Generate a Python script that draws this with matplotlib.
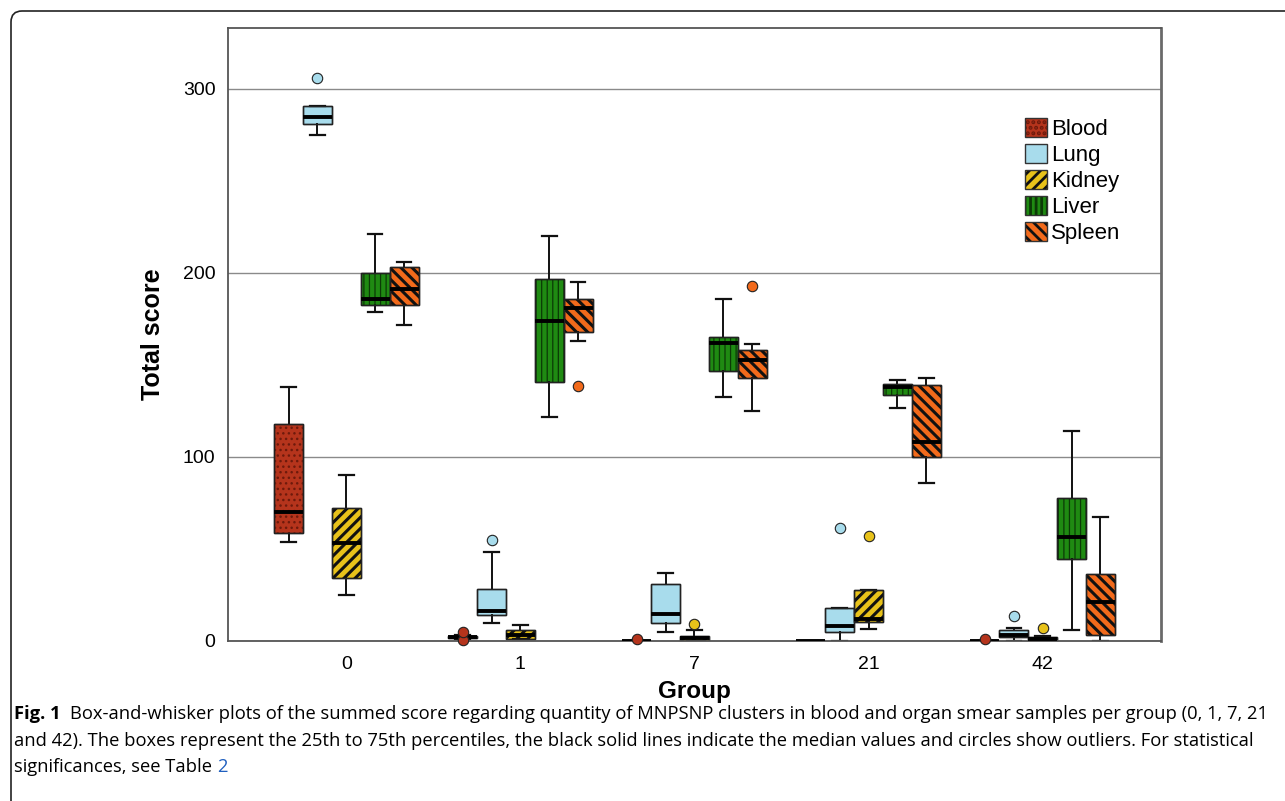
import numpy as np
import matplotlib
matplotlib.use("Agg")
import matplotlib.pyplot as plt
import matplotlib.patches as mpatches
from matplotlib.transforms import IdentityTransform
from matplotlib.legend_handler import HandlerTuple

plt.rcParams['font.family'] = ['Liberation Sans', 'DejaVu Sans']
plt.rcParams['hatch.linewidth'] = 2.0

# groups and organs
groups = ['0', '1', '7', '21', '42']
organs = ['Blood', 'Lung', 'Kidney', 'Liver', 'Spleen']

# five number summaries per group: (whislo, q1, med, q3, whishi)
blood_stats = [(54, 58.7, 70, 118, 138), (1, 1.5, 2, 2.5, 3), (0, 0, 0, 0, 0),
               (0, 0, 0, 0, 0), (0, 0, 0, 0, 0)]
blood_fliers = [[], [0.3, 5], [1.2], [], [0.9]]

lung_stats = [(275, 281, 284.6, 290.6, 290.6), (9.6, 14, 16.3, 28.4, 48.5),
              (5.1, 10, 14.6, 30.9, 36.7), (0, 4.7, 8.1, 17.7, 17.7), (0, 2, 3.5, 6, 7.2)]
lung_fliers = [[306], [54.8], [], [61.5], [13.8]]

kidney_stats = [(25, 34, 53, 72, 90), (1, 1, 3.2, 5.8, 8.7), (0, 0, 1.4, 2.7, 6),
                (6.5, 10.5, 11.9, 27.7, 27.7), (0, 0, 1.2, 2.3, 2.5)]
kidney_fliers = [[], [], [9.2], [57], [6.9]]

liver_stats = [(178.8, 182.4, 185.7, 200, 221), (121.4, 140.7, 174, 196.8, 219.9),
               (132.4, 146.7, 161.9, 165, 185.6), (126.4, 133.5, 137.8, 139.5, 142),
               (6, 44.5, 56.6, 77.8, 114.1)]
liver_fliers = [[], [], [], [], []]

spleen_stats = [(171.7, 182.4, 191.4, 203, 205.8), (162.8, 167.7, 181, 185.7, 194.8),
                (124.8, 142.9, 152.5, 157.9, 161.5), (85.9, 100, 108.3, 139, 142.7),
                (0, 3.3, 21.3, 36.2, 67.5)]
spleen_fliers = [[], [138.5], [192.8], [], []]

all_stats = [blood_stats, lung_stats, kidney_stats, liver_stats, spleen_stats]
all_fliers = [blood_fliers, lung_fliers, kidney_fliers, liver_fliers, spleen_fliers]

# look of each organ
face_cols = ['#B5341C', '#A8DCEC', '#E8C21A', '#1F8A12', '#F26A1B']
hatch_cols = ['#6e1a0c', None, '#111111', '#0b3a06', '#111111']
hatches = ['...', None, '///', '|||', '\\\\\\']
hatch_lw = [1.0, 1.0, 2.2, 0.9, 2.2]

fig = plt.figure(figsize=(12.85, 8.01), dpi=100)
ax = fig.add_axes([0.1774, 0.1998, 0.7261, 0.7653])

w = 0.166
offsets = [-2 * w, -w, 0, w, 2 * w]
x = np.arange(len(groups))


def add_hatch(patch_path, k, z):
    if hatches[k] is None:
        return
    hp = mpatches.PathPatch(patch_path, facecolor='none', edgecolor=hatch_cols[k],
                            lw=0, hatch=hatches[k], zorder=z)
    if hasattr(hp, 'set_hatch_linewidth'):
        hp.set_hatch_linewidth(hatch_lw[k])
    ax.add_patch(hp)


for k in range(len(organs)):
    stats = []
    for g in range(len(groups)):
        lo, q1, med, q3, hi = all_stats[k][g]
        stats.append(dict(whislo=lo, q1=q1, med=med, q3=q3, whishi=hi,
                          fliers=all_fliers[k][g], label=groups[g]))
    res = ax.bxp(stats, positions=x + offsets[k], widths=w, capwidths=w * 0.5,
                 patch_artist=True, manage_ticks=False,
                 boxprops=dict(facecolor=face_cols[k], edgecolor='#222222', lw=1.0),
                 medianprops=dict(color='black', lw=2.8, zorder=2.6),
                 whiskerprops=dict(color='#111111', lw=1.4),
                 capprops=dict(color='#111111', lw=1.6),
                 flierprops=dict(marker='o', markersize=7.5, markerfacecolor=face_cols[k],
                                 markeredgecolor='#222222', markeredgewidth=0.8))
    for b in res['boxes']:
        add_hatch(b.get_path(), k, 2.05)
        ax.add_patch(mpatches.PathPatch(b.get_path(), fill=False, edgecolor='#222222',
                                        lw=1.0, zorder=2.1))
    for f in res['fliers']:
        f.set_clip_on(False)
        f.set_zorder(3)

ax.set_xlim(-0.68, 4.68)
ax.set_ylim(0, 333)
ax.set_xticks(x)
ax.set_xticklabels(groups)
ax.set_yticks([0, 100, 200, 300])
ax.tick_params(axis='both', length=0, labelsize=14, colors='black')
ax.tick_params(axis='x', pad=11)
ax.tick_params(axis='y', pad=9)
ax.set_axisbelow(True)
ax.yaxis.grid(True, color='#8a8a8a', lw=1.0)
for s in ax.spines.values():
    s.set_color('#555555')
    s.set_linewidth(1.3)
ax.spines['right'].set_linewidth(2.0)
ax.spines['right'].set_color('#6a6a6a')

ax.set_ylabel('Total score', fontsize=18, fontweight='bold')
ax.set_xlabel('Group', fontsize=17.5, fontweight='bold')
ax.yaxis.set_label_coords(-0.068, 0.5)
ax.xaxis.set_label_coords(0.5, -0.064)

# legend
handles = []
for k in range(len(organs)):
    parts = [mpatches.Patch(facecolor=face_cols[k], edgecolor='none')]
    if hatches[k] is not None:
        hp = mpatches.Patch(facecolor='none', edgecolor=hatch_cols[k], lw=0, hatch=hatches[k])
        if hasattr(hp, 'set_hatch_linewidth'):
            hp.set_hatch_linewidth(hatch_lw[k])
        parts.append(hp)
    parts.append(mpatches.Patch(fill=False, edgecolor='#333333', lw=1.0))
    handles.append(tuple(parts))
ax.legend(handles, organs, handler_map={tuple: HandlerTuple(ndivide=1, pad=0)},
          loc='upper left', bbox_to_anchor=(0.854, 0.853), borderaxespad=0, borderpad=0,
          frameon=False, fontsize=16, handlelength=1.0, handleheight=0.95,
          handletextpad=0.18, labelspacing=0.17)

# outer page frame
frame = mpatches.FancyBboxPatch((11, -30), 1320, 820,
                                boxstyle='round,pad=0,rounding_size=11',
                                transform=IdentityTransform(), fill=False,
                                edgecolor='#222222', lw=1.2)
fig.add_artist(frame)

# caption
cap_font = ['Open Sans', 'DejaVu Sans']
cap_size = 13.2
t1 = fig.text(14 / 1285, 0.1085, 'Fig. 1', fontsize=cap_size, fontweight='bold',
              family=cap_font, va='center', ha='left')
ax.annotate('Box-and-whisker plots of the summed score regarding quantity of MNPSNP clusters '
            'in blood and organ smear samples per group (0, 1, 7, 21',
            xy=(1, 0), xycoords=t1, xytext=(7, 0), textcoords='offset points',
            va='bottom', ha='left', fontsize=cap_size, family=cap_font, annotation_clip=False)
fig.text(14 / 1285, 0.0755, 'and 42). The boxes represent the 25th to 75th percentiles, the black '
         'solid lines indicate the median values and circles show outliers. For statistical',
         fontsize=cap_size, family=cap_font, va='center', ha='left')
t3 = fig.text(14 / 1285, 0.042, 'significances, see Table', fontsize=cap_size, family=cap_font,
              va='center', ha='left')
ax.annotate('2', xy=(1, 0), xycoords=t3, xytext=(3.5, 0), textcoords='offset points',
            va='bottom', ha='left', fontsize=cap_size, family=cap_font, color='#1f5fbf',
            annotation_clip=False)

fig.savefig('out.png', dpi=100)
